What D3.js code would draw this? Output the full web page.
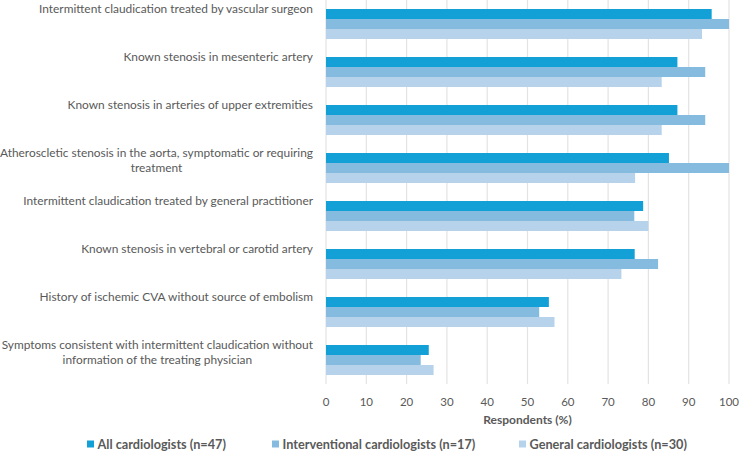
<!DOCTYPE html>
<html>
<head>
<meta charset="utf-8">
<script src="https://cdn.jsdelivr.net/npm/d3@7"></script>
<style>
  body { margin: 0; background: #fff; }
  svg text { font-family: Lato, "Open Sans", sans-serif; fill: #595959; }
</style>
</head>
<body>
<div id="chart"></div>
<script>

var categories = [
	"Intermittent claudication treated by vascular surgeon",
	"Known stenosis in mesenteric artery",
	"Known stenosis in arteries of upper extremities",
	"Atheroscletic stenosis in the aorta, symptomatic or requiring\ntreatment",
	"Intermittent claudication treated by general practitioner",
	"Known stenosis in vertebral or carotid artery",
	"History of ischemic CVA without source of embolism",
	"Symptoms consistent with intermittent claudication without\ninformation of the treating physician"
];

var seriesNames = [
	"All cardiologists (n=47)",
	"Interventional cardiologists (n=17)",
	"General cardiologists (n=30)"
];

var allValues = [95.7, 87.2, 87.2, 85.1, 78.7, 76.6, 55.3, 25.5],
	interventionalValues = [100, 94.1, 94.1, 100, 76.5, 82.4, 52.9, 23.5],
	generalValues = [93.3, 83.3, 83.3, 76.7, 80.0, 73.3, 56.7, 26.7];

var xTicks = [0, 10, 20, 30, 40, 50, 60, 70, 80, 90, 100];

var colors = ['#12a0d7', '#86bbe0', '#b6d3eb'];

var width = 739,
	height = 452;

var plotLeft = 326,
	plotRight = 729,
	plotTop = 0,
	plotBottom = 384;

var svg = d3.select("#chart")
	.append("svg")
	.attr("width", width)
	.attr("height", height);

var x = d3.scaleLinear()
	.domain([0, 100])
	.range([plotLeft, plotRight]);

var y0 = d3.scaleBand()
	.domain(categories)
	.range([plotTop, plotBottom])
	.paddingInner(0.375)
	.paddingOuter(0.1875);

var y1 = d3.scaleBand()
	.domain(seriesNames)
	.range([0, y0.bandwidth()]);

// grid lines
svg.append("g")
	.selectAll("line")
	.data(xTicks)
	.enter()
	.append("line")
	.attr("x1", function(d){ return x(d); })
	.attr("x2", function(d){ return x(d); })
	.attr("y1", plotTop)
	.attr("y2", plotBottom)
	.attr("stroke", "#e3e3e3")
	.attr("stroke-width", 1.2);

// bars
var rows = categories.map(function(c, i){
	return {
		cat: c,
		values: [allValues[i], interventionalValues[i], generalValues[i]]
	};
});

var group = svg.append("g")
	.selectAll("g")
	.data(rows)
	.enter()
	.append("g")
	.attr("transform", function(d){ return "translate(0," + y0(d.cat) + ")"; });

group.selectAll("rect")
	.data(function(d){
		return d.values.map(function(v, j){ return {name: seriesNames[j], value: v, idx: j}; });
	})
	.enter()
	.append("rect")
	.attr("x", x(0))
	.attr("y", function(d){ return y1(d.name); })
	.attr("width", function(d){ return x(d.value) - x(0); })
	.attr("height", y1.bandwidth())
	.attr("fill", function(d){ return colors[d.idx]; });

// category labels, right aligned block, lines centered on each other
var labelRight = 313;
rows.forEach(function(d){
	var lines = d.cat.split("\n");
	var t = svg.append("text")
		.attr("font-size", "11.9px")
		.attr("dominant-baseline", "central");
	lines.forEach(function(line, k){
		t.append("tspan")
			.attr("y", y0(d.cat) - 1 + k * 15)
			.text(line);
	});
	var spans = t.selectAll("tspan").nodes();
	var maxW = d3.max(spans, function(s){ return s.getComputedTextLength(); });
	if (lines.length > 1) {
		t.attr("text-anchor", "middle");
		t.selectAll("tspan").attr("x", labelRight - maxW / 2);
	} else {
		t.attr("text-anchor", "end");
		t.selectAll("tspan").attr("x", labelRight);
	}
});

// x tick labels
svg.append("g")
	.selectAll("text")
	.data(xTicks)
	.enter()
	.append("text")
	.attr("x", function(d){ return x(d); })
	.attr("y", 401)
	.attr("text-anchor", "middle")
	.attr("dominant-baseline", "central")
	.attr("font-size", "11.5px")
	.text(function(d){ return d; });

svg.append("text")
	.attr("x", (plotLeft + plotRight) / 2)
	.attr("y", 419)
	.attr("text-anchor", "middle")
	.attr("dominant-baseline", "central")
	.attr("font-size", "12px")
	.attr("font-weight", "bold")
	.text("Respondents (%)");

// legend
var legendX = [87, 272, 519];
var legend = svg.append("g")
	.selectAll("g")
	.data(seriesNames)
	.enter()
	.append("g")
	.attr("transform", function(d, i){ return "translate(" + legendX[i] + ",444)"; });

legend.append("rect")
	.attr("x", 0)
	.attr("y", -3.5)
	.attr("width", 7)
	.attr("height", 7)
	.attr("fill", function(d, i){ return colors[i]; });

legend.append("text")
	.attr("x", 10.5)
	.attr("y", 0)
	.attr("dominant-baseline", "central")
	.attr("font-size", "12.7px")
	.attr("font-weight", "bold")
	.text(function(d){ return d; });

</script>
</body>
</html>
